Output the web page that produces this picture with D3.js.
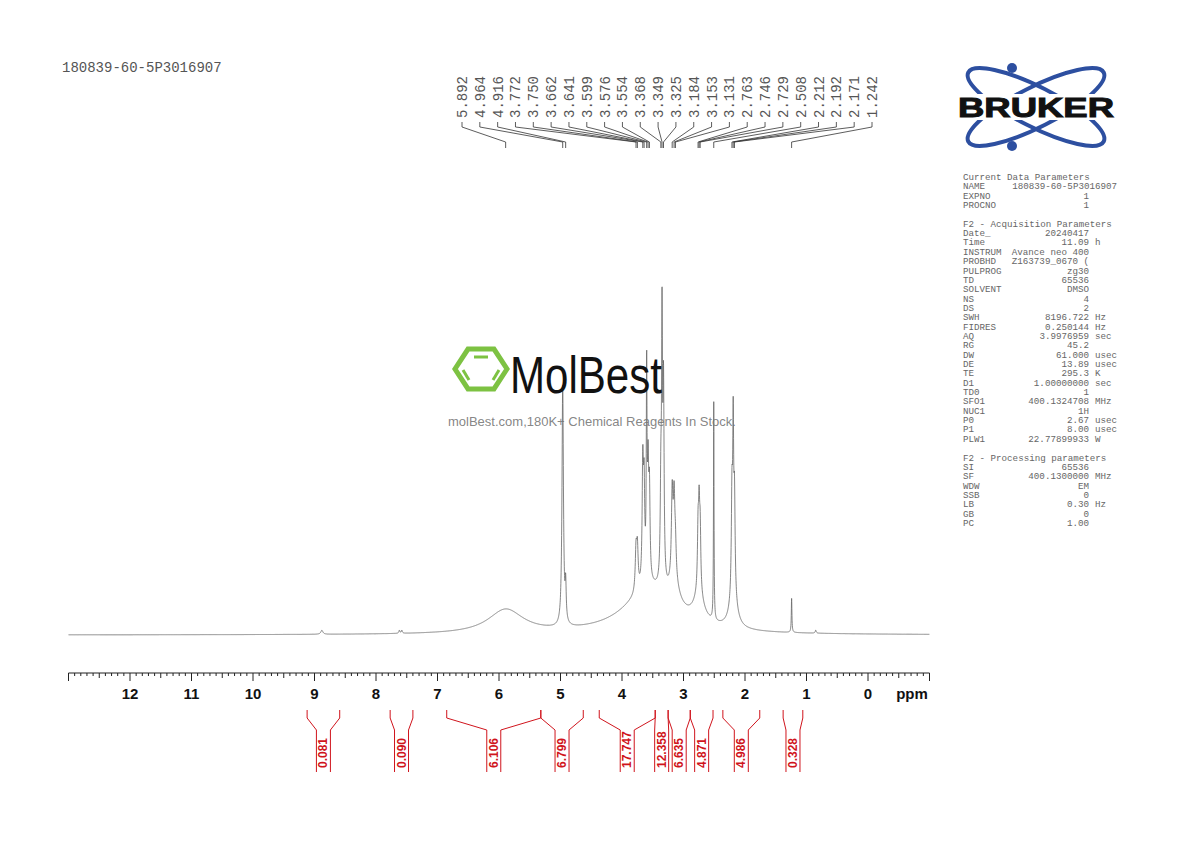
<!DOCTYPE html>
<meta charset="utf-8">
<html>
<head>
<script src="https://cdn.jsdelivr.net/npm/d3@7"></script>
<style>
  body { margin: 0; background: #fff; }
  svg { display: block; }
  .mono { font-family: "Liberation Mono", "DejaVu Sans Mono", monospace; fill: #555; }
  .tick { font-family: "Liberation Sans", Arial, sans-serif; font-weight: bold; font-size: 15px; fill: #111; }
  .integ { font-family: "Liberation Sans", Arial, sans-serif; font-weight: bold; font-size: 12px; fill: #d0141c; }
</style>
</head>
<body>
<svg width="1190" height="842"></svg>
<script>
// peak list: position (ppm), height above baseline (px), half width (ppm)
const peakPpm    = [8.88, 7.62, 7.58, 5.89, 4.964, 4.916, 3.55, 3.772, 3.750, 3.662, 3.641, 3.599, 3.576, 3.554, 3.368, 3.349, 3.325, 3.184, 3.153, 3.131, 3.15, 2.763, 2.746, 2.729, 2.75, 2.508, 2.212, 2.192, 2.171, 2.19, 1.242, 0.85];
const peakHeight = [4,    3,    3,    24,   240,   35,    45,   40,    40,    115,   90,    200,   105,   85,    90,    245,   190,   85,    75,    30,    22,   60,    70,    60,    25,   218,   100,   152,   95,    30,   34,    3];
const peakWidth  = [0.02, 0.01, 0.01, 0.35, 0.014, 0.01,  0.5,  0.015, 0.015, 0.012, 0.012, 0.007, 0.012, 0.012, 0.012, 0.009, 0.011, 0.015, 0.015, 0.015, 0.1,  0.012, 0.011, 0.012, 0.1,  0.005, 0.012, 0.009, 0.012, 0.07, 0.006, 0.01];

const peakLabels = ["5.892","4.964","4.916","3.772","3.750","3.662","3.641","3.599","3.576","3.554","3.368","3.349","3.325","3.184","3.153","3.131","2.763","2.746","2.729","2.508","2.212","2.192","2.171","1.242"];

const integFrom  = [9.12, 7.77, 6.85, 5.32, 4.37, 3.46, 3.25, 2.89, 2.36, 1.38];
const integTo    = [8.59, 7.40, 5.32, 4.63, 3.46, 3.25, 2.89, 2.52, 1.76, 1.06];
const integValue = ["0.081","0.090","6.106","6.799","17.747","12.358","6.635","4.871","4.986","0.328"];

const params = [
 ["Current Data Parameters",""],["NAME","180839-60-5P3016907"],["EXPNO","1"],["PROCNO","1"],["",""],
 ["F2 - Acquisition Parameters",""],["Date_","20240417"],["Time","11.09 h"],["INSTRUM","Avance neo 400"],
 ["PROBHD","Z163739_0670 ("],["PULPROG","zg30"],["TD","65536"],["SOLVENT","DMSO"],["NS","4"],["DS","2"],
 ["SWH","8196.722 Hz"],["FIDRES","0.250144 Hz"],["AQ","3.9976959 sec"],["RG","45.2"],["DW","61.000 usec"],
 ["DE","13.89 usec"],["TE","295.3 K"],["D1","1.00000000 sec"],["TD0","1"],["SFO1","400.1324708 MHz"],
 ["NUC1","1H"],["P0","2.67 usec"],["P1","8.00 usec"],["PLW1","22.77899933 W"],["",""],
 ["F2 - Processing parameters",""],["SI","65536"],["SF","400.1300000 MHz"],["WDW","EM"],["SSB","0"],
 ["LB","0.30 Hz"],["GB","0"],["PC","1.00"]
];

const svg = d3.select("svg");
const x = d3.scaleLinear().domain([12, 0]).range([130, 868]);
const y = d3.scaleLinear().domain([0, 350]).range([635, 285]);

// spectrum
const pts = d3.range(13.0, -1.0, -0.002).map(p => {
  let v = 0;
  peakPpm.forEach((c, i) => {
    const d = (p - c) / peakWidth[i];
    v += peakHeight[i] / (1 + d * d);
  });
  return [p, v];
});
svg.append("path").datum(pts)
  .attr("d", d3.line().x(d => x(d[0])).y(d => y(d[1])))
  .attr("fill", "none").attr("stroke", "#666").attr("stroke-width", 0.8);

// axis
const axis = svg.append("g").attr("transform", "translate(0,673)");
axis.append("line").attr("x1", x(13)).attr("x2", x(-1)).attr("stroke", "#222").attr("stroke-width", 1.2);
d3.range(130, -11, -1).forEach(t => {
  const v = t / 10;
  axis.append("line").attr("x1", x(v)).attr("x2", x(v)).attr("y1", 0)
    .attr("y2", t % 10 === 0 ? 8 : (t % 5 === 0 ? 5 : 3)).attr("stroke", "#222");
});
axis.selectAll(".tick").data(d3.range(12, -1, -1)).join("text").attr("class", "tick")
  .attr("x", d => x(d)).attr("y", 26).attr("text-anchor", "middle").text(d => d);
axis.append("text").attr("class", "tick").attr("x", 912).attr("y", 26).attr("text-anchor", "middle").text("ppm");

// peak labels
const n = peakLabels.length;
const lx = d3.scaleLinear().domain([0, n - 1]).range([462, 872]);
peakLabels.forEach((lab, i) => {
  const tx = lx(i);
  svg.append("text").attr("class", "mono").attr("font-size", 14)
    .attr("transform", `translate(${tx + 5},118) rotate(-90)`).text(lab);
  const px = x(+lab);
  svg.append("path").attr("fill", "none").attr("stroke", "#333").attr("stroke-width", 0.8)
    .attr("d", `M${tx},122 L${tx},127 L${px},142 L${px},148`);
});

// integrals
integValue.forEach((v, i) => {
  const a = x(integFrom[i]), b = x(integTo[i]), m = (a + b) / 2;
  const half = 7;
  svg.append("path").attr("fill", "none").attr("stroke", "#d0141c").attr("stroke-width", 1)
    .attr("d", `M${a},710 L${a},718 L${m - half},730 L${m - half},772 M${b},710 L${b},718 L${m + half},730 L${m + half},772`);
  svg.append("text").attr("class", "integ")
    .attr("transform", `translate(${m + 4},768) rotate(-90)`).text(v);
});

// title
svg.append("text").attr("class", "mono").attr("font-size", 14).attr("x", 62).attr("y", 72).text("180839-60-5P3016907");

// parameters
const pg = svg.append("g").attr("class", "mono").attr("font-size", 9.2).style("fill", "#666");
params.forEach((r, i) => {
  const yy = 180 + i * 9.35;
  pg.append("text").attr("x", 963).attr("y", yy).text(r[0]);
  const parts = r[1].match(/^(.*?)( (Hz|sec|usec|K|MHz|W|h))?$/);
  const right = r[0] === "NAME" ? 1117 : 1089;
  pg.append("text").attr("x", right).attr("y", yy).attr("text-anchor", "end").text(parts[1]);
  if (parts[3]) pg.append("text").attr("x", 1095).attr("y", yy).text(parts[3]);
});

// Bruker logo
const lg = svg.append("g").attr("transform", "translate(1036,107)");
[-27, 27].forEach(r => lg.append("ellipse").attr("rx", 76).attr("ry", 20).attr("transform", `rotate(${r})`)
  .attr("fill", "none").attr("stroke", "#2d4fa0").attr("stroke-width", 4));
[[-24, -39], [-24, 39]].forEach(c => lg.append("circle").attr("cx", c[0]).attr("cy", c[1]).attr("r", 5).attr("fill", "#2d4fa0"));
lg.append("rect").attr("x", -80).attr("y", -13).attr("width", 160).attr("height", 26).attr("fill", "#fff");
lg.append("text").attr("x", -78).attr("y", 10).attr("font-family", "Liberation Sans, Arial")
  .attr("font-weight", "900").attr("font-size", 27).attr("textLength", 156).attr("lengthAdjust", "spacingAndGlyphs")
  .attr("fill", "#111").attr("stroke", "#111").attr("stroke-width", 1).text("BRUKER");

// MolBest watermark
const wm = svg.append("g");
const hex = d3.range(6).map(k => [481 + 26 * Math.cos(k * Math.PI / 3), 369 + 23 * Math.sin(k * Math.PI / 3)]);
wm.append("polygon").attr("points", hex.join(" ")).attr("fill", "none").attr("stroke", "#7dc242").attr("stroke-width", 5);
wm.append("line").attr("x1", 474).attr("x2", 488).attr("y1", 357).attr("y2", 357).attr("stroke", "#7dc242").attr("stroke-width", 3);
wm.append("line").attr("x1", 463).attr("x2", 469).attr("y1", 370).attr("y2", 380).attr("stroke", "#7dc242").attr("stroke-width", 3);
wm.append("line").attr("x1", 499).attr("x2", 493).attr("y1", 370).attr("y2", 380).attr("stroke", "#7dc242").attr("stroke-width", 3);
wm.append("text").attr("x", 510).attr("y", 393).attr("font-family", "Liberation Sans Narrow, Liberation Sans, Arial")
  .attr("font-size", 52).attr("textLength", 152).attr("lengthAdjust", "spacingAndGlyphs").attr("fill", "#111").text("MolBest");
wm.append("text").attr("x", 448).attr("y", 426).attr("font-family", "Liberation Sans, Arial").attr("font-size", 13)
  .attr("fill", "#777").attr("fill-opacity", 0.9).text("molBest.com,180K+ Chemical Reagents In Stock.");
</script>
</body>
</html>
